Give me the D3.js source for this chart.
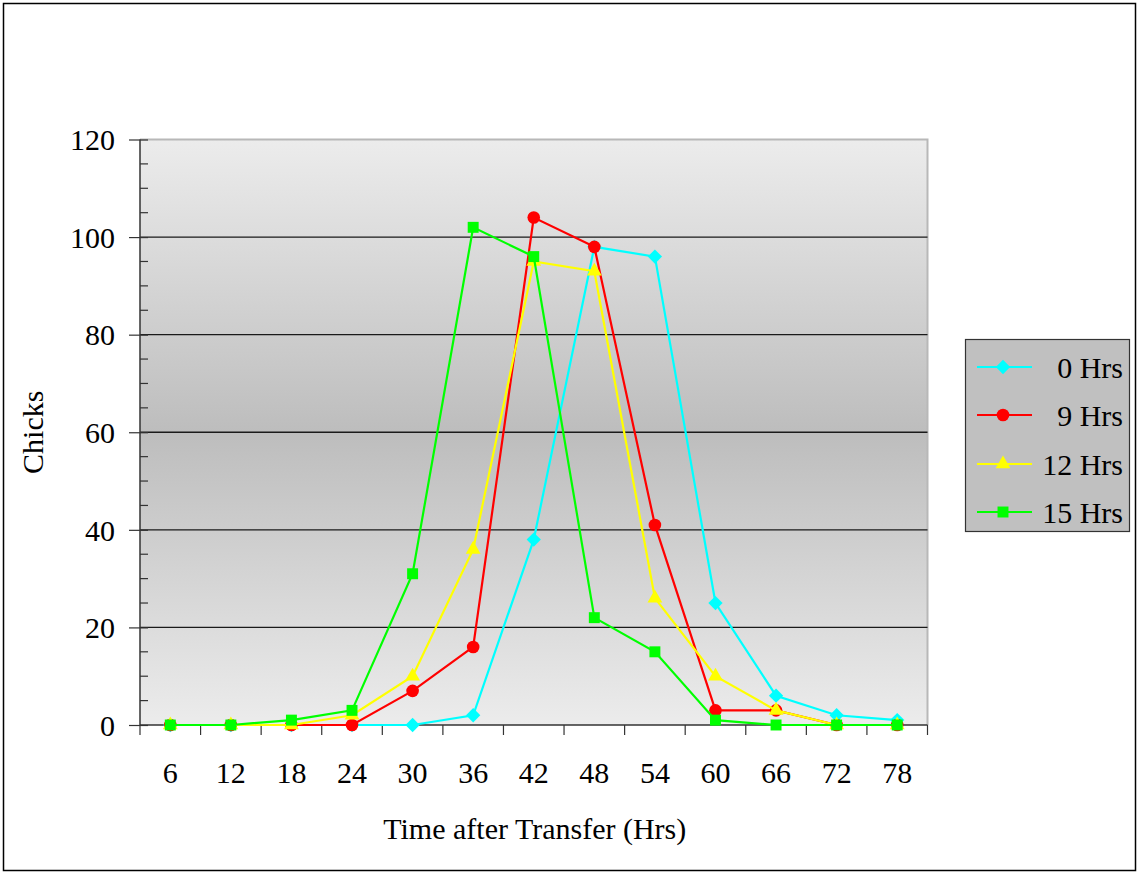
<!DOCTYPE html>
<html>
<head>
<meta charset="utf-8">
<script src="https://cdn.jsdelivr.net/npm/d3@7"></script>
<style>
  html, body { margin: 0; padding: 0; background: #fff; }
  svg { display: block; font-family: "Liberation Serif", "Times New Roman", serif; }
</style>
</head>
<body>
<svg id="chart" width="1138" height="873"></svg>
<script>
// ---- data ----
const categories = ["6", "12", "18", "24", "30", "36", "42", "48", "54", "60", "66", "72", "78"];
const seriesNames = ["0 Hrs", "9 Hrs", "12 Hrs", "15 Hrs"];
const hrs0  = [0, 0, 0, 0, 0, 2, 38, 98, 96, 25, 6, 2, 1];
const hrs9  = [0, 0, 0, 0, 7, 16, 104, 98, 41, 3, 3, 0, 0];
const hrs12 = [0, 0, 0, 2, 10, 36, 95, 93, 26, 10, 3, 0, 0];
const hrs15 = [0, 0, 1, 3, 31, 102, 96, 22, 15, 1, 0, 0, 0];
const yTicks = [0, 20, 40, 60, 80, 100, 120];
const xTitle = "Time after Transfer (Hrs)";
const yTitle = "Chicks";

const seriesValues = [hrs0, hrs9, hrs12, hrs15];
const colors = ["#00ffff", "#ff0000", "#ffff00", "#00ff00"];
const symbols = [d3.symbolDiamond2, d3.symbolCircle, d3.symbolTriangle, d3.symbolSquare];
const symSizes = [130, 125, 95, 120];

const svg = d3.select("#chart");
const fontSize = 30;

// outer border
svg.append("rect").attr("x", 3.5).attr("y", 3.5).attr("width", 1132).attr("height", 867)
  .attr("fill", "#fff").attr("stroke", "#000").attr("stroke-width", 1.5);

const plot = { left: 140, right: 927.5, top: 139.5, bottom: 725 };

const x = d3.scaleBand().domain(categories).range([plot.left, plot.right]).padding(0);
const y = d3.scaleLinear().domain([0, 120]).range([plot.bottom, plot.top]);

// gradient background
const defs = svg.append("defs");
const grad = defs.append("linearGradient").attr("id", "bg").attr("x1", 0).attr("y1", 0).attr("x2", 0).attr("y2", 1);
grad.append("stop").attr("offset", "0%").attr("stop-color", "#ececec");
grad.append("stop").attr("offset", "50%").attr("stop-color", "#bdbdbd");
grad.append("stop").attr("offset", "100%").attr("stop-color", "#ececec");

svg.append("rect").attr("x", plot.left).attr("y", plot.top)
  .attr("width", plot.right - plot.left).attr("height", plot.bottom - plot.top)
  .attr("fill", "url(#bg)");
// gray border top/right
svg.append("path")
  .attr("d", `M${plot.left},${plot.top}H${plot.right}V${plot.bottom}`)
  .attr("fill", "none").attr("stroke", "#b8b8b8").attr("stroke-width", 2);

// gridlines
svg.append("g").selectAll("line").data(yTicks.filter(d => d > 0 && d < 120)).join("line")
  .attr("x1", plot.left).attr("x2", plot.right)
  .attr("y1", d => y(d)).attr("y2", d => y(d))
  .attr("stroke", "#1a1a1a").attr("stroke-width", 1.3);

// y axis (major ticks crossing, minor inside)
const yMinor = d3.range(0, 121, 5).filter(v => v % 20 !== 0);
svg.append("g").selectAll("line").data(yMinor).join("line")
  .attr("x1", plot.left).attr("x2", plot.left + 8)
  .attr("y1", d => y(d)).attr("y2", d => y(d))
  .attr("stroke", "#333").attr("stroke-width", 1.2);

const yAxis = d3.axisLeft(y).tickValues(yTicks).tickSize(11).tickPadding(14);
const yg = svg.append("g").attr("transform", `translate(${plot.left},0)`).call(yAxis);
yg.select(".domain").attr("stroke", "#333").attr("stroke-width", 1.5).attr("d", `M0,${plot.top}V${plot.bottom}`);
yg.selectAll(".tick line").attr("stroke", "#333").attr("stroke-width", 1.2).attr("x2", -11).attr("x1", 8);
yg.selectAll(".tick text").attr("font-size", fontSize).attr("fill", "#000")
  .attr("font-family", "Liberation Serif, Times New Roman, serif").attr("dy", "0.34em");

// x axis: ticks at band boundaries
const xg = svg.append("g").attr("transform", `translate(0,${plot.bottom})`);
const xAxis = d3.axisBottom(x).tickSize(0).tickPadding(37);
xg.call(xAxis);
xg.select(".domain").attr("stroke", "#333").attr("stroke-width", 1.5).attr("d", `M${plot.left},0H${plot.right}`);
xg.selectAll(".tick text").attr("font-size", fontSize).attr("fill", "#000")
  .attr("font-family", "Liberation Serif, Times New Roman, serif");
const bounds = categories.map(c => x(c)).concat([x(categories[categories.length - 1]) + x.bandwidth()]);
xg.selectAll("line.bt").data(bounds).join("line").attr("class", "bt")
  .attr("x1", d => d).attr("x2", d => d).attr("y1", 0).attr("y2", 10)
  .attr("stroke", "#333").attr("stroke-width", 1.2);

// axis titles
svg.append("text").attr("x", (plot.left + plot.right) / 2 + 1).attr("y", 839)
  .attr("text-anchor", "middle").attr("font-size", fontSize).attr("fill", "#000").text(xTitle);
svg.append("text").attr("transform", `translate(43,${(plot.top + plot.bottom) / 2}) rotate(-90)`)
  .attr("text-anchor", "middle").attr("font-size", fontSize).attr("fill", "#000").text(yTitle);

// series
const cx = c => x(c) + x.bandwidth() / 2;
const line = d3.line().x((d, i) => cx(categories[i])).y(d => y(d));
seriesValues.forEach((vals, si) => {
  const g = svg.append("g");
  g.append("path").datum(vals).attr("d", line).attr("fill", "none")
    .attr("stroke", colors[si]).attr("stroke-width", 2.2);
  g.selectAll("path.m").data(vals).join("path").attr("class", "m")
    .attr("transform", (d, i) => `translate(${cx(categories[i])},${y(d)})`)
    .attr("d", d3.symbol().type(symbols[si]).size(symSizes[si]))
    .attr("fill", colors[si]);
});

// legend
const lg = svg.append("g");
lg.append("rect").attr("x", 965.5).attr("y", 339.5).attr("width", 164).attr("height", 192)
  .attr("fill", "#c0c0c0").attr("stroke", "#333").attr("stroke-width", 1.2);
const legY = [367, 415, 464, 512];
seriesNames.forEach((name, si) => {
  const ly = legY[si];
  lg.append("line").attr("x1", 977).attr("x2", 1032).attr("y1", ly).attr("y2", ly)
    .attr("stroke", colors[si]).attr("stroke-width", 2.2);
  lg.append("path").attr("transform", `translate(1003,${ly})`)
    .attr("d", d3.symbol().type(symbols[si]).size(symSizes[si]))
    .attr("fill", colors[si]);
  lg.append("text").attr("x", 1123).attr("y", ly).attr("dy", "0.35em")
    .attr("text-anchor", "end").attr("font-size", fontSize).attr("fill", "#000").text(name);
});
</script>
</body>
</html>
